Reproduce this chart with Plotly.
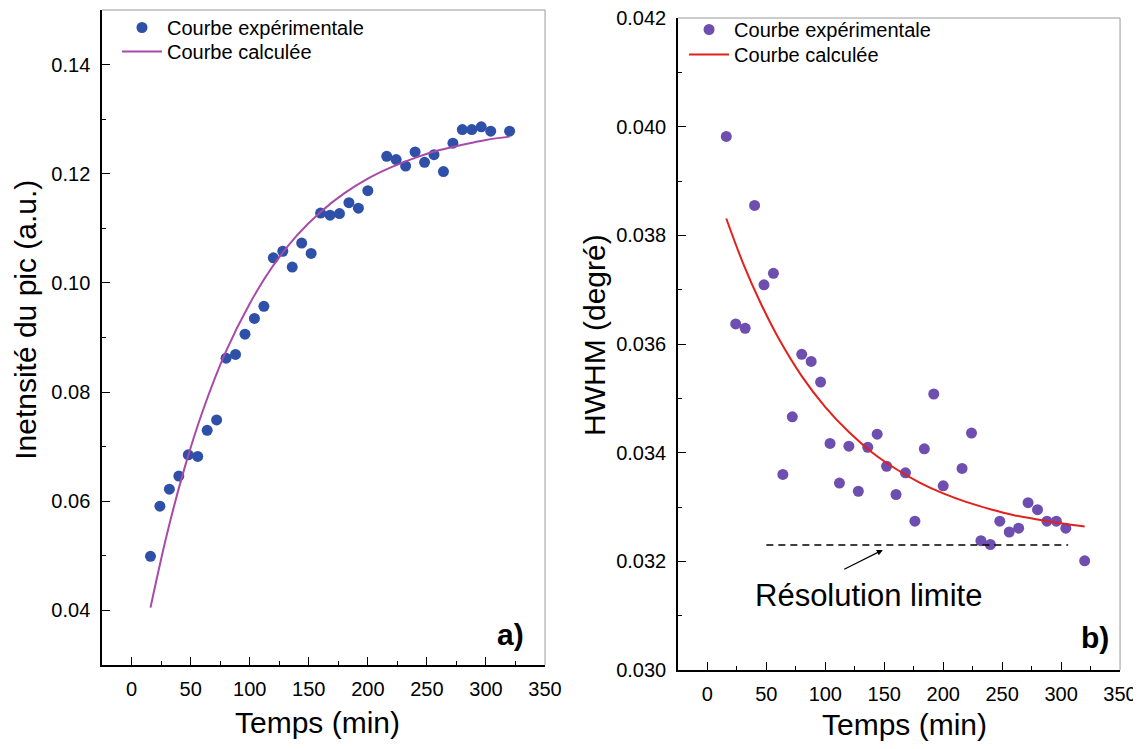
import plotly.graph_objects as go

# panel a) peak intensity vs time
t_a = [16, 24, 32, 40, 48, 56, 64, 72, 80, 88, 96, 104, 112, 120, 128, 136, 144, 152,
       160, 168, 176, 184, 192, 200, 216, 224, 232, 240, 248, 256, 264, 272, 280, 288,
       296, 304, 320]
int_a = [0.0499, 0.0591, 0.0622, 0.0646, 0.0685, 0.0682, 0.0730, 0.0749, 0.0862, 0.0869,
         0.0906, 0.0935, 0.0957, 0.1046, 0.1058, 0.1029, 0.1073, 0.1054, 0.1128, 0.1124,
         0.1127, 0.1147, 0.1137, 0.1169, 0.1232, 0.1226, 0.1214, 0.1240, 0.1221, 0.1235,
         0.1204, 0.1256, 0.1281, 0.1281, 0.1286, 0.1278, 0.1278]
t_calc_a = [16, 30, 45, 60, 80, 100, 120, 140, 160, 180, 200, 220, 240, 260, 280, 300, 320]
int_calc = [0.0405, 0.0540, 0.0662, 0.0764, 0.0875, 0.0962, 0.1032, 0.1087, 0.1130, 0.1164,
            0.1191, 0.1212, 0.1229, 0.1243, 0.1253, 0.1262, 0.1268]

# panel b) HWHM vs time
t_b = [16, 24, 32, 40, 48, 56, 64, 72, 80, 88, 96, 104, 112, 120, 128, 136, 144, 152,
       160, 168, 176, 184, 192, 200, 216, 224, 232, 240, 248, 256, 264, 272, 280, 288,
       296, 304, 320]
hwhm_b = [0.03982, 0.03637, 0.03629, 0.03855, 0.03709, 0.03730, 0.03360, 0.03466, 0.03581,
          0.03568, 0.03530, 0.03417, 0.03344, 0.03412, 0.03329, 0.03410, 0.03434, 0.03375,
          0.03323, 0.03363, 0.03274, 0.03407, 0.03508, 0.03339, 0.03371, 0.03436, 0.03238,
          0.03231, 0.03274, 0.03254, 0.03261, 0.03308, 0.03295, 0.03274, 0.03274, 0.03261,
          0.03201]
t_calc_b = [16, 30, 45, 60, 80, 100, 120, 140, 160, 180, 200, 220, 240, 260, 280, 300, 320]
hwhm_calc = [0.03831, 0.03750, 0.03676, 0.03612, 0.03541, 0.03484, 0.03438, 0.03400,
             0.03370, 0.03345, 0.03325, 0.03309, 0.03296, 0.03285, 0.03277, 0.03270, 0.03264]

# instrumental resolution limit
res_t = [50, 306]
res_val = [0.0323, 0.0323]

FONT = "Arial, Liberation Sans, sans-serif"

fig = go.Figure()
fig.add_trace(go.Scatter(x=t_a, y=int_a, mode='markers', name='Courbe expérimentale',
                         marker=dict(color='#2f50a8', size=11), xaxis='x', yaxis='y',
                         legend='legend'))
fig.add_trace(go.Scatter(x=t_calc_a, y=int_calc, mode='lines', name='Courbe calculée',
                         line=dict(color='#a84aa8', width=2, shape='spline'),
                         xaxis='x', yaxis='y', legend='legend3'))
fig.add_trace(go.Scatter(x=t_b, y=hwhm_b, mode='markers', name='Courbe expérimentale',
                         marker=dict(color='#6e4fb0', size=11), xaxis='x2', yaxis='y2',
                         legend='legend2'))
fig.add_trace(go.Scatter(x=t_calc_b, y=hwhm_calc, mode='lines', name='Courbe calculée',
                         line=dict(color='#e3211c', width=2, shape='spline'),
                         xaxis='x2', yaxis='y2', legend='legend4'))
fig.add_trace(go.Scatter(x=res_t, y=res_val, mode='lines', showlegend=False,
                         line=dict(color='black', width=1.5, dash='7px,5px'),
                         xaxis='x2', yaxis='y2'))

xcommon = dict(range=[-25, 350], dtick=50, tick0=0, ticks='inside', ticklen=8,
               tickcolor='black', showline=True, linecolor='black', linewidth=1.5,
               showgrid=False, zeroline=False, ticklabelstandoff=5, automargin=False,
               ticklabeloverflow='allow',
               tickfont=dict(family=FONT, size=20, color='black'),
               minor=dict(dtick=25, tick0=0, ticks='inside', ticklen=4, tickcolor='black'))
ycommon = dict(ticks='inside', ticklen=8, tickcolor='black', showline=True,
               linecolor='black', linewidth=1.5, showgrid=False, zeroline=False,
               ticklabelstandoff=6, automargin=False, ticklabeloverflow='allow',
               tickfont=dict(family=FONT, size=20, color='black'))


def leg(x, y):
    return dict(x=x, y=y, xanchor='left', yanchor='top', bgcolor='rgba(0,0,0,0)',
                font=dict(family=FONT, size=20, color='black'), itemwidth=40)


# page body adds an 8px offset, so the figure is 8px smaller than the window
fig.update_layout(
    width=1133, height=741,
    margin=dict(l=0, r=0, t=0, b=0),
    paper_bgcolor='white', plot_bgcolor='white',
    font=dict(family=FONT, color='black'),
    xaxis=dict(domain=[0.0830, 0.4740], anchor='y', **xcommon),
    yaxis=dict(domain=[0.1134, 0.9973], anchor='x', range=[0.03, 0.15], dtick=0.02,
               tick0=0.04, tickformat='.2f',
               minor=dict(dtick=0.01, ticks='inside', ticklen=4, tickcolor='black'),
               **ycommon),
    xaxis2=dict(domain=[0.5913, 0.9815], anchor='y2', **xcommon),
    yaxis2=dict(domain=[0.1066, 0.9865], anchor='x2', range=[0.030, 0.0420001],
                dtick=0.002, tick0=0.030, tickformat='.3f',
                minor=dict(dtick=0.001, ticks='inside', ticklen=4, tickcolor='black'),
                **ycommon),
    legend=leg(0.0962, 1.0),
    legend3=leg(0.0962, 0.9676),
    legend2=leg(0.5967, 0.9973),
    legend4=leg(0.5967, 0.9636),
)

# grey top/right frame of each panel
for xr, yr in [('x domain', 'y domain'), ('x2 domain', 'y2 domain')]:
    fig.add_shape(type='line', xref=xr, yref=yr, x0=0, x1=1, y0=1, y1=1,
                  line=dict(color='#9a9a9a', width=1))
    fig.add_shape(type='line', xref=xr, yref=yr, x0=1, x1=1, y0=0, y1=1,
                  line=dict(color='#9a9a9a', width=1))

centered = dict(xanchor='center', yanchor='middle', showarrow=False)

# axis titles
fig.add_annotation(text='Inetnsité du pic (a.u.)', x=0.0148, y=0.5789, xref='paper',
                   yref='paper', textangle=-90, font=dict(family=FONT, size=30), **centered)
fig.add_annotation(text='HWHM (degré)', x=0.5172, y=0.5587, xref='paper', yref='paper',
                   textangle=-90, font=dict(family=FONT, size=30), **centered)
fig.add_annotation(text='Temps (min)', x=0.2736, y=0.0364, xref='paper', yref='paper',
                   font=dict(family=FONT, size=30), **centered)
fig.add_annotation(text='Temps (min)', x=0.7917, y=0.0324, xref='paper', yref='paper',
                   font=dict(family=FONT, size=30), **centered)

# panel labels
fig.add_annotation(text='<b>a)</b>', x=320.6, y=0.0356, xref='x', yref='y',
                   font=dict(family=FONT, size=30), **centered)
fig.add_annotation(text='<b>b)</b>', x=328.8, y=0.0306, xref='x2', yref='y2',
                   font=dict(family=FONT, size=30), **centered)

# resolution label with arrow
fig.add_annotation(text='Résolution limite', x=137, y=0.03138, xref='x2', yref='y2',
                   font=dict(family=FONT, size=31), **centered)
fig.add_annotation(x=148.8, y=0.03221, ax=114.8, ay=0.03184, xref='x2', yref='y2',
                   axref='x2', ayref='y2', text='', showarrow=True, arrowhead=2,
                   arrowsize=1, arrowwidth=1.2, arrowcolor='black')

fig.write_html("out.html")
